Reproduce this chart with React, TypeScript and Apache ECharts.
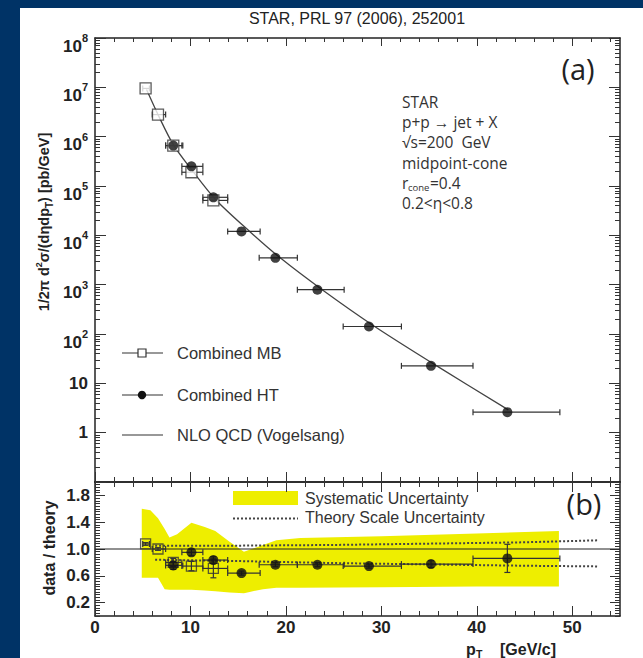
import React, { useEffect, useRef } from 'react';
import * as echarts from 'echarts';

// ---------- data ----------
// Panel (a): cross section
const mbPT = [5.3, 6.6, 8.2, 10.1, 12.4];
const mbXLo = [5.0, 6.0, 7.4, 9.1, 11.3];
const mbXHi = [5.7, 7.4, 9.1, 11.3, 13.9];
const mbXsec = [9.5e6, 2.8e6, 6.6e5, 1.9e5, 5.1e4];

const htPT = [8.2, 10.1, 12.4, 15.35, 18.9, 23.3, 28.7, 35.2, 43.2];
const htXLo = [7.4, 9.1, 11.3, 13.9, 17.2, 21.2, 26.0, 32.1, 39.6];
const htXHi = [9.2, 11.3, 13.9, 17.3, 21.2, 26.1, 32.1, 39.6, 48.7];
const htXsec = [6.6e5, 2.5e5, 5.9e4, 1.2e4, 3.5e3, 790, 142, 22.6, 2.6];

const nloPT = [5.4, 6.6, 8.2, 10.0, 12.6, 16.2, 19.4, 23.8, 29.3, 35.8, 43.3];
const nloXsec = [9.0e6, 2.8e6, 6.9e5, 2.3e5, 5.4e4, 1.2e4, 3.5e3, 790, 142, 22.6, 2.9];

// Panel (b): data / theory
const mbRatio = [1.075, 1.0, 0.8, 0.745, 0.71];
const mbRatioErr = [0.02, 0.02, 0.06, 0.07, 0.14];
const htRatio = [0.755, 0.95, 0.835, 0.64, 0.765, 0.765, 0.745, 0.775, 0.86];
const htRatioErr = [0.06, 0.05, 0.05, 0.03, 0.03, 0.03, 0.03, 0.05, 0.21];

const bandPT = [4.9, 5.8, 6.6, 7.3, 7.8, 8.6, 10.1, 11.5, 12.6, 14.1, 15.6, 16.2, 17.6, 19.0, 21.5, 30, 40, 48.6];
const bandHi = [1.6, 1.58, 1.46, 1.3, 1.17, 1.22, 1.39, 1.33, 1.27, 1.11, 0.96, 0.99, 1.06, 1.13, 1.165, 1.19, 1.23, 1.27];
const bandLo = [0.57, 0.57, 0.57, 0.4, 0.39, 0.39, 0.39, 0.38, 0.37, 0.35, 0.34, 0.36, 0.4, 0.42, 0.42, 0.43, 0.44, 0.44];

const scalePT = [6.3, 15, 25, 35, 45, 52.8];
const scaleHi = [1.05, 1.05, 1.06, 1.08, 1.1, 1.13];
const scaleLo = [0.84, 0.82, 0.79, 0.77, 0.75, 0.74];

const unityPT = [0, 55];
const unityVal = [1, 1];

// ticks / labels
const xTickValues = [0, 10, 20, 30, 40, 50];
const ratioTickValues = [0.2, 0.6, 1.0, 1.4, 1.8];
const annotLines = ['STAR', 'p+p \u2192 jet + X', '\u221As=200  GeV', 'midpoint-cone', '', '0.2<\u03B7<0.8'];
const legendA = ['Combined MB', 'Combined HT', 'NLO QCD (Vogelsang)'];
const legendB = ['Systematic Uncertainty', 'Theory Scale Uncertainty'];

const xMinorValues: number[] = [];
for (let v = 2; v < 55; v += 2) if (v % 10 !== 0) xMinorValues.push(v);
const logMinorValues: number[] = [];
for (let e = -1; e < 8; e++) for (let m = 2; m <= 9; m++) logMinorValues.push(m * Math.pow(10, e));
const ratioMinorValues: number[] = [];
for (let i = 0; i <= 50; i++) ratioMinorValues.push(+(i * 0.04).toFixed(2));

// ---------- styles ----------
const SANS = '"Liberation Sans", Arial, Helvetica, sans-serif';
const HUM = '"Open Sans", "Noto Sans", sans-serif';
const FRAME = '#222';
const TICK = '#333';
const INK = '#111';
const YELLOW = '#eeee00';

const gridA = { left: 95, top: 38, width: 525, height: 444 };
const gridB = { left: 95, top: 482, width: 525, height: 134 };

function xAx(gridIndex: number, position: string, values: number[], len: number, line: boolean, labels: boolean) {
  return {
    type: 'value', gridIndex, position, min: 0, max: 55,
    axisLine: { show: line, onZero: false, lineStyle: { color: FRAME, width: 1.5 } },
    axisTick: { show: true, inside: true, length: len, customValues: values, lineStyle: { color: TICK, width: 1 } },
    axisLabel: labels
      ? { show: true, customValues: xTickValues, formatter: (v: number) => String(v), fontFamily: SANS, fontWeight: 'bold', fontSize: 17, color: '#222', margin: 3 }
      : { show: false },
    splitLine: { show: false },
    minorTick: { show: false },
  };
}

const logFmt = (v: number) => {
  const e = Math.round(Math.log10(v));
  if (e < 0) return '';
  if (e === 0) return '{c|1}';
  if (e === 1) return '{c|10}';
  return '{b|10}{sup|' + e + '}';
};

function yLog(position: string, minor: boolean, line: boolean, labels: boolean) {
  return {
    type: 'log', logBase: 10, gridIndex: 0, position, min: 0.1, max: 1e8,
    axisLine: { show: line, onZero: false, lineStyle: { color: FRAME, width: 1.5 } },
    axisTick: minor
      ? { show: true, inside: true, length: 5, customValues: logMinorValues, lineStyle: { color: TICK, width: 1 } }
      : { show: true, inside: true, length: 11, lineStyle: { color: TICK, width: 1 } },
    axisLabel: labels
      ? {
          show: true, formatter: logFmt, margin: 7,
          rich: {
            b: { fontFamily: SANS, fontWeight: 'bold', fontSize: 17, color: '#222', lineHeight: 17, verticalAlign: 'bottom' },
            sup: { fontFamily: SANS, fontWeight: 'bold', fontSize: 11, color: '#222', lineHeight: 33, verticalAlign: 'middle' },
            c: { fontFamily: SANS, fontWeight: 'bold', fontSize: 17, color: '#222', lineHeight: 17 },
          },
        }
      : { show: false },
    splitLine: { show: false },
  };
}

function yRatio(position: string, minor: boolean, line: boolean, labels: boolean) {
  return {
    type: 'value', gridIndex: 1, position, min: 0, max: 2,
    axisLine: { show: line, onZero: false, lineStyle: { color: FRAME, width: 1.5 } },
    axisTick: { show: true, inside: true, length: minor ? 5 : 10, customValues: minor ? ratioMinorValues : ratioTickValues, lineStyle: { color: TICK, width: 1 } },
    axisLabel: labels
      ? { show: true, customValues: ratioTickValues, formatter: (v: number) => v.toFixed(1), fontFamily: SANS, fontWeight: 'bold', fontSize: 17, color: '#222', margin: 5 }
      : { show: false },
    splitLine: { show: false },
  };
}

const errRender = (withY: boolean) => (params: any, api: any) => {
  const x = api.value(0), y = api.value(1), lo = api.value(2), hi = api.value(3), ey = api.value(4);
  const a = api.coord([lo, y]);
  const b = api.coord([hi, y]);
  const st = { stroke: '#333', lineWidth: 1.2 };
  const c = 3;
  const ch: any[] = [
    { type: 'line', shape: { x1: a[0], y1: a[1], x2: b[0], y2: b[1] }, style: st },
    { type: 'line', shape: { x1: a[0], y1: a[1] - c, x2: a[0], y2: a[1] + c }, style: st },
    { type: 'line', shape: { x1: b[0], y1: b[1] - c, x2: b[0], y2: b[1] + c }, style: st },
  ];
  if (withY && ey > 0) {
    const t = api.coord([x, y + ey]);
    const u = api.coord([x, y - ey]);
    ch.push({ type: 'line', shape: { x1: t[0], y1: t[1], x2: u[0], y2: u[1] }, style: st });
    ch.push({ type: 'line', shape: { x1: t[0] - c, y1: t[1], x2: t[0] + c, y2: t[1] }, style: st });
    ch.push({ type: 'line', shape: { x1: u[0] - c, y1: u[1], x2: u[0] + c, y2: u[1] }, style: st });
  }
  return { type: 'group', children: ch };
};

function txt(x: number, y: number, text: string, extra: any = {}, el: any = {}) {
  const align = extra.align || 'left';
  return {
    type: 'text', x, y, silent: true, ...el,
    style: {
      text, fill: '#333', fontFamily: SANS, fontSize: 16,
      align, textAlign: align, verticalAlign: 'middle', textVerticalAlign: 'middle',
      ...extra,
    },
  };
}

function buildOption() {
  const mbA = mbPT.map((x, i) => [x, mbXsec[i], mbXLo[i], mbXHi[i], 0]);
  const htA = htPT.map((x, i) => [x, htXsec[i], htXLo[i], htXHi[i], 0]);
  const mbB = mbPT.map((x, i) => [x, mbRatio[i], mbXLo[i], mbXHi[i], mbRatioErr[i]]);
  const htB = htPT.map((x, i) => [x, htRatio[i], htXLo[i], htXHi[i], htRatioErr[i]]);

  const annotY = [102, 122, 142, 163, 183, 203];
  const annot: any[] = [];
  annotLines.forEach((t, i) => {
    if (t) annot.push(txt(402, annotY[i], t, { fontFamily: HUM, fontSize: 15.5 }));
  });
  // r_cone = 0.4 line (with subscript)
  annot.push(txt(402, 183, 'r', { fontFamily: HUM, fontSize: 15.5 }));
  annot.push(txt(408, 187, 'cone', { fontFamily: HUM, fontSize: 9.5 }));
  annot.push(txt(430, 183, '=0.4', { fontFamily: HUM, fontSize: 15.5 }));

  const legSt = { stroke: '#333', lineWidth: 1.2 };
  const graphics: any[] = [
    txt(357, 18, 'STAR, PRL 97 (2006), 252001', { align: 'center', fontSize: 16, fill: '#222' }),
    txt(578, 68, '(a)', { align: 'center', fontFamily: HUM, fontSize: 29, fill: '#222' }),
    txt(584, 503, '(b)', { align: 'center', fontFamily: HUM, fontSize: 29, fill: '#222' }),
    ...annot,
    // legend (a)
    { type: 'line', silent: true, shape: { x1: 122, y1: 353, x2: 163, y2: 353 }, style: legSt },
    { type: 'rect', silent: true, shape: { x: 138, y: 349, width: 8, height: 8 }, style: { fill: '#fff', stroke: '#333', lineWidth: 1.2 } },
    txt(177, 353, legendA[0], { fontSize: 16.5 }),
    { type: 'line', silent: true, shape: { x1: 122, y1: 395, x2: 163, y2: 395 }, style: legSt },
    { type: 'circle', silent: true, shape: { cx: 142, cy: 395, r: 4.2 }, style: { fill: INK } },
    txt(177, 395, legendA[1], { fontSize: 16.5 }),
    { type: 'line', silent: true, shape: { x1: 122, y1: 435, x2: 163, y2: 435 }, style: legSt },
    txt(177, 435, legendA[2], { fontSize: 16.5 }),
    // legend (b)
    { type: 'rect', silent: true, shape: { x: 233, y: 491, width: 65, height: 14 }, style: { fill: YELLOW } },
    txt(305, 498, legendB[0], { fontSize: 16 }),
    { type: 'line', silent: true, shape: { x1: 233, y1: 518.5, x2: 298, y2: 518.5 }, style: { stroke: '#444', lineWidth: 2, lineDash: [2, 2] } },
    txt(305, 517, legendB[1], { fontSize: 16 }),
    // axis titles
    txt(44, 222, '{b|1/2\u03C0 d}{u|2}{b|\u03C3/(d\u03B7dp}{t|T}{b|) [pb/GeV]}', {
      align: 'center', fontWeight: 'bold', fontSize: 14.5, fill: '#222',
      rich: {
        b: { fontFamily: SANS, fontWeight: 'bold', fontSize: 14.5, fill: '#222', color: '#222', lineHeight: 20 },
        u: { fontFamily: SANS, fontWeight: 'bold', fontSize: 9, fill: '#222', color: '#222', lineHeight: 20, verticalAlign: 'top' },
        t: { fontFamily: SANS, fontWeight: 'bold', fontSize: 10, fill: '#222', color: '#222', lineHeight: 20, verticalAlign: 'bottom' },
      },
    }, { rotation: Math.PI / 2 }),
    txt(49, 548, 'data / theory', { align: 'center', fontWeight: 'bold', fontSize: 16, fill: '#222' }, { rotation: Math.PI / 2 }),
    // x title: p_T   [GeV/c]
    txt(466, 649, 'p', { fontWeight: 'bold', fontSize: 16, fill: '#222' }),
    txt(476, 653.5, 'T', { fontWeight: 'bold', fontSize: 10.5, fill: '#222' }),
    txt(500, 649, '[GeV/c]', { fontWeight: 'bold', fontSize: 16, fill: '#222' }),
  ];

  return {
    animation: false,
    backgroundColor: 'transparent',
    grid: [
      { ...gridA, outerBoundsMode: 'none', containLabel: false },
      { ...gridB, outerBoundsMode: 'none', containLabel: false },
    ],
    xAxis: [
      xAx(0, 'bottom', xTickValues, 10, true, false),
      xAx(0, 'bottom', xMinorValues, 5, false, false),
      xAx(0, 'top', xTickValues, 8, true, false),
      xAx(0, 'top', xMinorValues, 4, false, false),
      xAx(1, 'bottom', xTickValues, 10, true, true),
      xAx(1, 'bottom', xMinorValues, 5, false, false),
      xAx(1, 'top', xTickValues, 10, true, false),
      xAx(1, 'top', xMinorValues, 5, false, false),
    ],
    yAxis: [
      yLog('left', false, true, true),
      yLog('left', true, false, false),
      yLog('right', false, true, false),
      yLog('right', true, false, false),
      yRatio('left', false, true, true),
      yRatio('left', true, false, false),
      yRatio('right', false, true, false),
      yRatio('right', true, false, false),
    ],
    series: [
      // ---- panel (b)
      {
        type: 'custom', name: 'Systematic Uncertainty', xAxisIndex: 4, yAxisIndex: 4, z: 1, silent: true,
        data: [[bandPT[0], bandHi[0]]],
        renderItem: (params: any, api: any) => {
          const pts: number[][] = [];
          bandPT.forEach((x, i) => pts.push(api.coord([x, bandHi[i]])));
          for (let i = bandPT.length - 1; i >= 0; i--) pts.push(api.coord([bandPT[i], bandLo[i]]));
          return { type: 'polygon', shape: { points: pts }, style: { fill: YELLOW } };
        },
      },
      {
        type: 'line', name: 'Theory Scale Uncertainty', xAxisIndex: 4, yAxisIndex: 4, z: 2, symbol: 'none', silent: true,
        data: scalePT.map((x, i) => [x, scaleHi[i]]),
        lineStyle: { color: '#444', width: 2, type: [2, 2] },
      },
      {
        type: 'line', name: 'Theory Scale Uncertainty low', xAxisIndex: 4, yAxisIndex: 4, z: 2, symbol: 'none', silent: true,
        data: scalePT.map((x, i) => [x, scaleLo[i]]),
        lineStyle: { color: '#444', width: 2, type: [2, 2] },
      },
      {
        type: 'line', name: 'unity', xAxisIndex: 4, yAxisIndex: 4, z: 2, symbol: 'none', silent: true,
        data: unityPT.map((x, i) => [x, unityVal[i]]),
        lineStyle: { color: '#222', width: 1.2 },
      },
      { type: 'custom', name: 'MB ratio err', xAxisIndex: 4, yAxisIndex: 4, z: 3, silent: true, data: mbB, renderItem: errRender(true) },
      { type: 'custom', name: 'HT ratio err', xAxisIndex: 4, yAxisIndex: 4, z: 3, silent: true, data: htB, renderItem: errRender(true) },
      {
        type: 'scatter', name: 'Combined MB ratio', xAxisIndex: 4, yAxisIndex: 4, z: 4, symbol: 'rect', symbolSize: 10,
        data: mbPT.map((x, i) => [x, mbRatio[i]]),
        itemStyle: { color: 'rgba(255,255,255,0)', borderColor: '#333', borderWidth: 1.3 },
      },
      {
        type: 'scatter', name: 'Combined HT ratio', xAxisIndex: 4, yAxisIndex: 4, z: 5, symbol: 'circle', symbolSize: 10,
        data: htPT.map((x, i) => [x, htRatio[i]]),
        itemStyle: { color: INK },
      },
      // ---- panel (a)
      {
        type: 'line', name: 'NLO QCD (Vogelsang)', xAxisIndex: 0, yAxisIndex: 0, z: 2, symbol: 'none', smooth: 0.3, silent: true,
        data: nloPT.map((x, i) => [x, nloXsec[i]]),
        lineStyle: { color: '#444', width: 1.3 },
      },
      { type: 'custom', name: 'MB err', xAxisIndex: 0, yAxisIndex: 0, z: 3, silent: true, data: mbA, renderItem: errRender(false) },
      { type: 'custom', name: 'HT err', xAxisIndex: 0, yAxisIndex: 0, z: 3, silent: true, data: htA, renderItem: errRender(false) },
      {
        type: 'scatter', name: 'Combined MB', xAxisIndex: 0, yAxisIndex: 0, z: 4, symbol: 'rect', symbolSize: 11,
        data: mbPT.map((x, i) => [x, mbXsec[i]]),
        itemStyle: { color: '#fff', borderColor: '#333', borderWidth: 1.3 },
      },
      {
        type: 'scatter', name: 'Combined HT', xAxisIndex: 0, yAxisIndex: 0, z: 5, symbol: 'circle', symbolSize: 10,
        data: htPT.map((x, i) => [x, htXsec[i]]),
        itemStyle: { color: INK },
      },
    ],
    graphic: { elements: graphics },
  };
}

export default function App() {
  const ref = useRef<HTMLDivElement>(null);
  useEffect(() => {
    if (!ref.current) return;
    const chart = echarts.init(ref.current, null, { renderer: 'svg' });
    chart.setOption(buildOption() as any);
    return () => chart.dispose();
  }, []);
  return (
    <div style={{ position: 'fixed', left: 0, top: 0, width: 643, height: 658, background: '#003366', overflow: 'hidden' }}>
      <div style={{ position: 'absolute', left: 20, top: 8, width: 623, height: 650, background: '#ffffff' }} />
      <div ref={ref} style={{ position: 'absolute', left: 0, top: 0, width: 643, height: 658 }} />
    </div>
  );
}
